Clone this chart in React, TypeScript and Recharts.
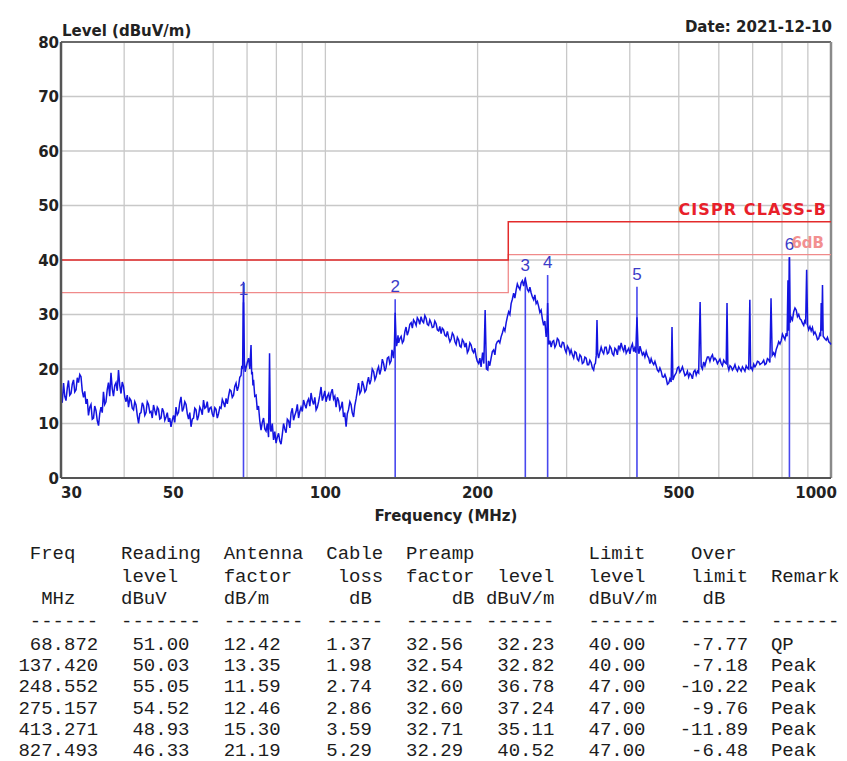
import React from 'react'
import {
  LineChart,
  Line,
  XAxis,
  YAxis,
  CartesianGrid,
  ReferenceLine,
  ReferenceDot,
} from 'recharts'

// axis ticks
const gridFreqs = [30, 40, 50, 60, 70, 80, 90, 100, 200, 300, 400, 500, 600, 700, 800, 900, 1000]
const freqLabels = [30, 50, 100, 200, 500, 1000]
const levelTicks = [0, 10, 20, 30, 40, 50, 60, 70, 80]

// CISPR class B limit and the 6 dB margin below it
const limitFreq = [30, 230, 230, 1000]
const limitLevel = [40, 40, 47, 47]
const marginLevel = [34, 34, 41, 41]

// markers / table rows
const markerNo = ['1', '2', '3', '4', '5', '6']
const markerFreq = [68.872, 137.42, 248.552, 275.157, 413.271, 827.493]
const readingLevel = [51.0, 50.03, 55.05, 54.52, 48.93, 46.33]
const antennaFactor = [12.42, 13.35, 11.59, 12.46, 15.3, 21.19]
const cableLoss = [1.37, 1.98, 2.74, 2.86, 3.59, 5.29]
const preampFactor = [32.56, 32.54, 32.6, 32.6, 32.71, 32.29]
const emissionLevel = [32.23, 32.82, 36.78, 37.24, 35.11, 40.52]
const rowLimit = [40.0, 40.0, 47.0, 47.0, 47.0, 47.0]
const overLimit = [-7.77, -7.18, -10.22, -9.76, -11.89, -6.48]
const remark = ['QP', 'Peak', 'Peak', 'Peak', 'Peak', 'Peak']

// scan trace [MHz, dBuV/m]
const trace: [number, number][] = [
  [30.0, 15.6], [30.17, 13.8], [30.35, 17.4], [30.52, 15.0], [30.69, 14.2], [30.87, 16.5], [31.04, 17.9], [31.22, 15.2],
  [31.4, 15.5], [31.58, 17.2], [31.76, 18.0], [31.94, 15.8], [32.13, 16.2], [32.31, 18.4], [32.49, 17.5], [32.68, 19.0],
  [32.86, 18.6], [33.05, 16.0], [33.24, 14.8], [33.43, 15.9], [33.62, 13.6], [33.81, 14.5], [34.0, 11.5], [34.2, 13.0],
  [34.39, 13.5], [34.59, 10.8], [34.79, 11.0], [34.98, 13.2], [35.18, 12.4], [35.39, 10.5], [35.59, 9.6], [35.79, 11.8],
  [35.99, 13.0], [36.2, 12.0], [36.4, 15.8], [36.61, 13.5], [36.82, 14.0], [37.03, 16.2], [37.24, 17.5], [37.45, 15.0],
  [37.67, 19.3], [37.88, 16.4], [38.1, 15.0], [38.32, 17.0], [38.54, 17.5], [38.76, 16.0], [38.98, 19.8], [39.2, 17.0],
  [39.43, 15.5], [39.65, 17.6], [39.88, 16.8], [40.11, 14.8], [40.34, 14.0], [40.57, 15.2], [40.8, 13.0], [41.03, 14.6],
  [41.27, 14.2], [41.5, 12.8], [41.74, 12.5], [41.98, 14.0], [42.22, 13.4], [42.46, 11.5], [42.71, 10.0], [42.95, 11.8],
  [43.19, 12.0], [43.44, 13.8], [43.69, 13.2], [43.94, 11.5], [44.19, 12.0], [44.44, 14.0], [44.69, 13.5], [44.95, 12.0],
  [45.2, 12.2], [45.46, 11.0], [45.72, 13.4], [45.98, 12.4], [46.24, 11.5], [46.51, 13.0], [46.77, 12.6], [47.04, 10.8],
  [47.31, 11.0], [47.58, 12.8], [47.85, 12.2], [48.13, 10.6], [48.4, 11.2], [48.68, 12.0], [48.96, 10.3], [49.23, 11.0],
  [49.51, 9.4], [49.79, 10.6], [50.08, 11.5], [50.36, 10.2], [50.65, 13.0], [50.94, 11.6], [51.23, 12.0], [51.52, 13.8],
  [51.82, 14.9], [52.12, 12.2], [52.42, 12.8], [52.72, 14.0], [53.02, 13.5], [53.32, 11.8], [53.62, 10.8], [53.93, 12.0],
  [54.24, 9.4], [54.55, 10.8], [54.86, 11.0], [55.17, 12.8], [55.49, 12.5], [55.81, 10.6], [56.13, 11.4], [56.44, 13.0],
  [56.76, 12.5], [57.09, 11.6], [57.41, 14.3], [57.74, 12.8], [58.07, 13.0], [58.4, 14.0], [58.74, 12.0], [59.07, 12.8],
  [59.41, 13.0], [59.75, 11.8], [60.09, 11.2], [60.44, 12.9], [60.78, 12.6], [61.13, 11.0], [61.48, 11.8], [61.83, 13.0],
  [62.18, 12.8], [62.54, 14.4], [62.9, 13.8], [63.26, 13.0], [63.62, 14.6], [63.98, 13.6], [64.34, 15.0], [64.71, 16.2],
  [65.07, 16.0], [65.44, 14.8], [65.82, 15.2], [66.19, 16.8], [66.57, 17.4], [66.95, 16.0], [67.33, 16.8], [67.72, 18.5],
  [68.11, 18.8], [68.35, 20.6], [68.6, 20.0], [68.87, 36.0], [69.15, 21.5], [69.4, 19.5], [69.67, 20.2], [70.07, 21.2],
  [70.48, 22.0], [70.88, 20.0],
  [71.28, 24.4], [71.49, 19.0], [71.7, 19.5], [71.9, 17.0], [72.1, 18.0], [72.5, 15.0], [72.93, 15.2], [73.34, 12.5],
  [73.75, 13.2], [74.17, 10.5],
  [74.6, 8.8], [75.03, 10.2], [75.46, 11.0], [75.89, 9.0], [76.32, 8.6], [76.76, 10.0], [77.2, 7.5], [77.55, 22.9], [77.85, 9.0],
  [78.08, 8.5], [78.53, 10.0], [78.98, 7.0], [79.43, 8.5], [79.88, 6.4], [80.34, 7.5], [80.8, 8.2], [81.26, 6.8],
  [81.72, 6.2], [82.19, 8.0], [82.66, 10.0], [83.13, 9.0], [83.61, 8.3], [84.09, 10.8], [84.57, 10.5], [85.05, 9.2],
  [85.53, 11.9], [86.02, 12.8], [86.51, 10.6], [87.01, 11.5], [87.51, 12.2], [88.01, 13.5], [88.51, 11.0], [89.01, 12.2],
  [89.51, 13.0], [90.02, 12.2], [90.54, 14.3], [91.06, 13.5], [91.58, 12.8], [92.1, 14.0], [92.63, 14.5], [93.16, 13.2],
  [93.69, 15.6], [94.23, 14.2], [94.77, 13.5], [95.31, 14.8], [95.86, 12.5], [96.41, 13.0], [96.96, 14.0], [97.5, 15.2],
  [98.05, 16.7], [98.61, 14.2], [99.18, 15.0], [99.74, 16.0], [100.3, 14.0], [100.9, 15.0], [101.5, 15.5], [102.0, 14.2],
  [102.6, 15.6], [103.2, 16.3], [103.8, 14.5], [104.4, 15.0], [105.0, 13.0], [105.6, 14.8], [106.2, 14.2], [106.8, 12.5],
  [107.4, 13.0], [108.0, 14.0], [108.6, 11.2], [109.2, 12.0], [109.9, 9.4], [110.5, 11.8], [111.1, 12.5], [111.8, 14.0],
  [112.4, 13.5], [113.0, 12.0], [113.7, 11.2], [114.3, 13.2], [115.0, 14.5], [115.6, 15.8], [116.3, 17.4], [117.0, 15.5],
  [117.7, 16.0], [118.3, 17.8], [119.0, 17.0], [119.7, 15.8], [120.4, 16.2], [121.0, 17.5], [121.7, 18.5], [122.4, 17.2],
  [123.1, 18.0], [123.8, 20.0], [124.6, 19.5], [125.3, 18.0], [126.0, 18.6], [126.7, 19.8], [127.4, 20.4], [128.1, 19.0],
  [128.9, 20.0], [129.6, 21.8], [130.4, 21.0], [131.1, 19.6], [131.8, 20.2], [132.6, 22.0], [133.4, 22.2], [134.1, 21.0],
  [134.9, 21.5], [135.4, 23.5], [135.9, 23.0], [136.4, 22.0], [136.9, 24.0], [137.42, 30.3], [137.9, 26.0], [138.3, 24.2],
  [138.8, 25.0], [139.2, 26.2], [139.6, 24.8], [140.4, 25.6],
  [141.2, 26.0], [142.0, 24.8], [142.8, 25.2], [143.6, 26.8], [144.4, 27.7], [145.2, 26.2], [146.1, 27.0], [146.9, 28.2],
  [147.8, 28.5], [148.6, 27.5], [149.4, 29.0], [150.3, 28.6], [151.2, 28.0], [152.0, 29.4], [152.9, 29.0], [153.7, 28.2],
  [154.6, 29.6], [155.5, 28.8], [156.4, 28.5], [157.3, 29.8], [158.2, 29.3], [159.1, 28.2], [160.0, 28.0], [160.9, 29.0],
  [161.8, 28.5], [162.7, 27.6], [163.7, 27.7], [164.6, 28.8], [165.6, 28.3], [166.5, 27.2], [167.5, 27.0], [168.4, 27.8],
  [169.4, 26.5], [170.3, 27.5], [171.3, 27.2], [172.3, 26.2], [173.3, 26.0], [174.3, 26.9], [175.3, 25.8], [176.3, 25.0],
  [177.3, 25.5], [178.3, 26.6], [179.3, 26.2], [180.4, 25.0], [181.4, 24.5], [182.4, 25.8], [183.5, 25.3], [184.5, 24.2],
  [185.5, 24.0], [186.6, 25.4], [187.7, 25.0], [188.7, 24.0], [189.8, 24.8], [190.9, 23.0], [192.0, 23.5], [193.1, 24.8],
  [194.2, 24.4], [195.3, 23.4], [196.4, 23.0], [197.5, 23.8], [198.7, 22.2], [199.8, 21.4], [201.0, 21.0], [202.1, 22.0],
  [203.2, 20.4], [204.6, 23.0], [205.8, 21.0], [207.0, 30.8], [208.2, 20.0], [209.5, 19.8], [210.2, 21.5], [211.4, 20.6],
  [212.7, 22.0], [213.9, 23.2], [215.2, 23.5], [216.4, 22.6], [217.6, 24.5], [218.8, 25.0], [220.1, 25.2], [221.3, 24.8],
  [222.6, 25.9], [223.9, 26.6], [225.2, 27.5], [226.5, 27.0], [227.8, 28.5], [229.1, 29.6], [230.4, 30.5], [231.7, 30.0],
  [233.0, 32.0], [234.3, 32.8], [235.7, 33.9], [237.0, 33.0], [238.4, 34.5], [239.7, 35.6], [241.1, 35.0], [242.5, 34.6],
  [243.9, 35.8], [245.3, 36.2], [246.7, 35.2], [247.6, 36.0], [248.55, 36.5], [249.5, 35.8], [250.9, 34.6], [252.4, 34.2],
  [253.8, 35.0],
  [255.2, 34.0], [256.7, 33.2], [258.2, 32.7], [259.6, 33.6], [261.1, 32.0], [262.6, 32.4], [264.1, 31.5], [265.6, 30.4],
  [267.1, 30.8], [268.6, 29.2], [270.2, 28.0], [271.7, 28.8], [273.3, 25.9], [274.3, 27.0], [275.16, 32.1], [276.5, 24.5],
  [278.0, 25.2],
  [279.6, 24.0], [281.2, 25.0], [282.8, 25.2], [284.4, 24.0], [286.0, 24.5], [287.6, 25.6], [289.3, 25.3], [290.9, 24.2],
  [292.6, 24.0], [294.3, 24.9], [296.0, 24.8], [297.7, 23.6], [299.4, 23.0], [301.1, 24.2], [302.8, 23.8], [304.5, 22.8],
  [306.2, 23.5], [308.0, 22.6], [309.8, 22.0], [311.5, 23.2], [313.3, 23.0], [315.1, 21.8], [316.9, 21.5], [318.7, 22.6],
  [320.5, 22.3], [322.3, 21.0], [324.2, 21.2], [326.0, 22.2], [327.9, 22.0], [329.8, 20.8], [331.7, 20.8], [333.5, 21.6],
  [335.4, 21.2], [337.3, 20.2], [339.3, 19.8], [340.6, 20.8], [342.0, 21.0], [343.3, 22.5], [344.5, 29.0], [345.7, 22.8],
  [347.0, 22.0], [349.0, 23.0],
  [351.1, 24.0], [353.1, 23.2], [355.1, 22.8], [357.2, 24.0], [359.2, 24.0], [361.2, 22.8], [363.3, 23.0], [365.3, 24.2],
  [367.4, 23.8], [369.5, 22.8], [371.7, 22.5], [373.8, 23.8], [375.9, 23.5], [378.0, 22.6], [380.2, 24.3], [382.4, 23.6],
  [384.6, 24.8], [386.8, 23.8], [389.0, 23.3], [391.3, 24.4], [393.5, 22.9], [395.8, 23.4], [398.0, 23.8], [400.2, 22.8],
  [402.5, 24.0], [404.8, 24.6], [407.1, 23.2], [409.0, 23.8], [411.0, 23.0], [413.27, 29.5], [415.5, 23.5], [417.2, 22.8],
  [419.0, 24.2],
  [421.2, 23.4], [423.6, 22.6], [426.1, 23.0], [428.5, 22.2], [431.0, 23.2], [433.5, 22.4], [436.0, 22.0], [438.4, 21.0],
  [440.9, 21.9], [443.4, 21.2], [446.0, 20.8], [448.5, 21.4], [451.1, 20.6], [453.6, 19.8], [456.2, 19.5], [458.8, 20.2],
  [461.4, 19.6], [464.0, 18.6], [466.7, 18.5], [469.4, 19.0], [472.1, 18.3], [474.8, 17.2], [477.6, 17.4], [480.2, 18.2],
  [482.9, 17.6], [484.8, 27.7], [486.8, 18.0], [490.5, 18.8], [494.2, 19.3], [497.0, 20.2], [499.7, 20.4], [502.5, 19.4],
  [505.4, 19.8], [508.4, 20.4], [511.3, 19.6], [514.2, 18.8], [517.1, 19.0], [520.0, 19.6], [523.0, 18.5], [526.0, 19.2],
  [529.0, 18.9], [532.0, 18.2], [535.1, 19.5], [538.2, 19.8], [541.2, 18.9], [544.3, 19.6], [547.4, 19.3], [551.0, 32.3],
  [553.65, 20.5], [556.8, 20.0],
  [560.0, 21.3], [563.2, 20.6], [566.4, 21.5], [569.6, 22.2], [572.9, 22.2], [576.2, 21.4],
  [579.45, 22.2], [582.8, 22.6], [586.1, 21.6], [589.4, 22.0], [592.8, 21.7], [596.2, 21.0], [599.6, 21.4], [603.0, 21.8],
  [606.45, 21.0], [609.9, 20.6], [613.4, 21.6], [617.0, 21.2], [620.5, 21.0], [622.8, 32.1], [625.2, 20.5], [628.0, 19.8],
  [631.3, 20.6],
  [634.7, 20.4], [638.3, 19.8], [642.0, 20.2], [645.7, 20.8], [649.4, 20.0], [653.1, 19.6], [656.8, 20.4], [660.5, 20.0],
  [664.3, 19.6], [668.1, 20.4], [671.9, 20.0], [675.7, 19.6], [679.6, 20.6], [683.5, 20.2], [687.4, 20.0], [691.0, 32.7],
  [693.5, 20.0],
  [695.3, 20.3], [699.3, 19.8], [703.3, 20.9], [707.3, 20.4], [711.3, 20.8], [715.4, 21.4], [719.5, 21.3], [723.6, 20.8],
  [727.7, 21.0], [731.8, 21.2], [736.0, 21.6], [740.2, 20.8], [744.5, 21.0], [748.7, 21.9], [753.0, 21.7], [757.0, 21.2],
  [761.0, 33.0], [765.0, 22.5],
  [770.3, 23.0], [774.7, 22.4], [779.2, 23.6], [783.6, 24.2], [788.1, 25.0], [792.6, 24.6],
  [797.1, 25.2], [801.6, 26.4], [806.2, 25.9], [810.8, 25.4], [815.5, 26.6], [818.8, 26.0], [822.0, 36.3], [824.5, 27.0],
  [827.5, 40.5], [830.5, 28.5],
  [834.2, 29.5], [839.0, 29.0], [843.8, 30.5], [848.6, 31.2], [853.5, 30.8], [858.4, 29.6], [863.3, 30.0], [868.2, 29.2],
  [873.1, 29.0], [878.1, 28.4], [883.1, 28.0], [887.0, 28.8], [891.0, 28.5], [895.0, 38.2], [899.0, 28.0], [903.3, 27.2],
  [908.5, 27.8],
  [913.8, 27.0], [919.0, 27.6], [924.3, 26.4], [929.6, 26.8], [935.0, 26.2], [940.3, 25.4], [945.7, 25.6], [950.0, 26.4],
  [954.0, 26.0], [956.4, 32.1], [959.0, 27.0], [962.0, 35.4], [965.0, 26.0], [971.7, 25.6], [978.5, 25.3], [984.0, 25.8],
  [989.8, 25.0], [995.0, 24.8], [1000, 24.5],
]

const traceData = trace.map(([f, v]) => ({ f, v }))
const limitData = limitFreq.map((f, i) => ({ f, v: limitLevel[i] }))
const marginData = limitFreq.map((f, i) => ({ f, v: marginLevel[i] }))

const LABEL_FONT = '"DejaVu Sans", sans-serif'
const TABLE_FONT = '"Liberation Mono", monospace'

function FreqTick(props: any) {
  const { x, y, payload } = props
  const v = payload.value
  if (!freqLabels.includes(v)) return <g />
  let anchor = 'middle'
  let dx = 0
  if (v === freqLabels[0]) anchor = 'start'
  if (v === freqLabels[freqLabels.length - 1]) { anchor = 'end'; dx = 6 }
  return (
    <text x={x + dx} y={y + 20} textAnchor={anchor} fontFamily={LABEL_FONT}
      fontWeight="bold" fontSize={15} fill="#222">{v}</text>
  )
}

function LevelTick(props: any) {
  const { x, y, payload } = props
  return (
    <text x={x - 2} y={y + 5.5} textAnchor="end" fontFamily={LABEL_FONT}
      fontWeight="bold" fontSize={15} fill="#222">{payload.value}</text>
  )
}

// text table laid out on a character grid
function place(line: string[], col: number, text: string) {
  for (let i = 0; i < text.length; i++) line[col + i] = text[i]
}
function blank() { return new Array(74).fill(' ') }

function buildTable() {
  const h1 = blank(), h2 = blank(), h3 = blank(), dash = blank()
  place(h1, 2, 'Freq'); place(h1, 10, 'Reading'); place(h1, 19, 'Antenna'); place(h1, 28, 'Cable')
  place(h1, 35, 'Preamp'); place(h1, 51, 'Limit'); place(h1, 60, 'Over')
  place(h2, 10, 'level'); place(h2, 19, 'factor'); place(h2, 29, 'loss'); place(h2, 35, 'factor')
  place(h2, 43, 'level'); place(h2, 51, 'level'); place(h2, 60, 'limit'); place(h2, 67, 'Remark')
  place(h3, 3, 'MHz'); place(h3, 10, 'dBuV'); place(h3, 19, 'dB/m'); place(h3, 30, 'dB')
  place(h3, 39, 'dB'); place(h3, 42, 'dBuV/m'); place(h3, 51, 'dBuV/m'); place(h3, 61, 'dB')
  const groups = [[2, 6], [10, 7], [19, 7], [28, 5], [35, 6], [42, 6], [51, 6], [59, 6], [67, 6]]
  groups.forEach(([s, n]) => place(dash, s, '-'.repeat(n)))
  const lines = [h1, h2, h3, dash].map(l => l.join('').trimEnd())
  markerFreq.forEach((f, i) => {
    const r = blank()
    const cells: [string, number][] = [
      [f.toFixed(3), 8],
      [readingLevel[i].toFixed(2), 16],
      [antennaFactor[i].toFixed(2), 24],
      [cableLoss[i].toFixed(2), 32],
      [preampFactor[i].toFixed(2), 40],
      [emissionLevel[i].toFixed(2), 48],
      [rowLimit[i].toFixed(2), 56],
      [overLimit[i].toFixed(2), 65],
    ]
    cells.forEach(([t, end]) => place(r, end - t.length, t))
    place(r, 67, remark[i])
    lines.push(r.join('').trimEnd())
  })
  return lines
}

const tableLineY = [553, 576, 598, 621, 644, 665, 686, 708, 729, 750]

export default function App() {
  const tableLines = buildTable()
  return (
    <div style={{ position: 'absolute', left: 0, top: 0, width: 847, height: 761, background: '#fff', overflow: 'hidden' }}>
      <LineChart width={847} height={530} margin={{ top: 42, right: 16, bottom: 22, left: 0 }}>
        <CartesianGrid stroke="#c8c8c8" strokeWidth={1.3} />
        <XAxis
          dataKey="f"
          type="number"
          scale="log"
          domain={[30, 1000]}
          ticks={gridFreqs}
          interval={0}
          tick={<FreqTick />}
          tickLine={false}
          tickSize={0}
          tickMargin={0}
          height={30}
          axisLine={{ stroke: '#555', strokeWidth: 2 }}
        />
        <YAxis
          type="number"
          domain={[0, 80]}
          ticks={levelTicks}
          interval={0}
          tick={<LevelTick />}
          tickLine={false}
          tickSize={0}
          tickMargin={0}
          width={61}
          axisLine={{ stroke: '#555', strokeWidth: 2.5 }}
        />
        <ReferenceLine y={80} stroke="#6a6a6a" strokeWidth={2} />
        <ReferenceLine x={1000} stroke="#8a8a8a" strokeWidth={2.5} />
        <Line data={marginData} dataKey="v" type="linear" stroke="#f08a8a" strokeWidth={1.3}
          dot={false} isAnimationActive={false} />
        <Line data={limitData} dataKey="v" type="linear" stroke="#e32b2b" strokeWidth={1.5}
          dot={false} isAnimationActive={false} />
        {markerFreq.map((f, i) => (
          <ReferenceLine key={'m' + i} segment={[{ x: f, y: 0 }, { x: f, y: emissionLevel[i] }]}
            stroke="#4848ee" strokeWidth={1.6} />
        ))}
        <Line data={traceData} dataKey="v" type="linear" stroke="#1414e0" strokeWidth={1.5}
          dot={false} isAnimationActive={false} />
        {markerFreq.map((f, i) => (
          <ReferenceDot key={'d' + i} x={f} y={emissionLevel[i]} r={0} stroke="none" fill="none"
            label={{ value: markerNo[i], position: 'top', offset: 7, fill: '#3c3cc8', fontSize: 17,
              fontFamily: '"Liberation Sans", Arial, sans-serif' }} />
        ))}
      </LineChart>

      <div style={{ position: 'absolute', left: 62, top: 22, fontFamily: LABEL_FONT, fontWeight: 'bold',
        fontSize: 15, lineHeight: '18px', color: '#222', whiteSpace: 'nowrap' }}>Level (dBuV/m)</div>
      <div style={{ position: 'absolute', right: 15, top: 18, fontFamily: LABEL_FONT, fontWeight: 'bold',
        fontSize: 15, lineHeight: '18px', color: '#222', whiteSpace: 'nowrap' }}>Date: 2021-12-10</div>
      <div style={{ position: 'absolute', right: 20, top: 201, fontFamily: LABEL_FONT, fontWeight: 'bold',
        fontSize: 16, lineHeight: '18px', color: '#e8202a', whiteSpace: 'nowrap', letterSpacing: 1.1 }}>CISPR CLASS-B</div>
      <div style={{ position: 'absolute', right: 23, top: 234, fontFamily: LABEL_FONT, fontWeight: 'bold',
        fontSize: 15, lineHeight: '18px', color: '#f29090', whiteSpace: 'nowrap' }}>6dB</div>
      <div style={{ position: 'absolute', left: 346, width: 200, top: 507, textAlign: 'center', fontFamily: LABEL_FONT,
        fontWeight: 'bold', fontSize: 15, lineHeight: '18px', color: '#222', whiteSpace: 'nowrap' }}>Frequency (MHz)</div>

      {tableLines.map((t, i) => (
        <div key={'t' + i} style={{ position: 'absolute', left: 7, top: tableLineY[i] - 10, fontFamily: TABLE_FONT,
          fontSize: 19, lineHeight: '22px', color: '#1c1c1c', whiteSpace: 'pre' }}>{t}</div>
      ))}
    </div>
  )
}
